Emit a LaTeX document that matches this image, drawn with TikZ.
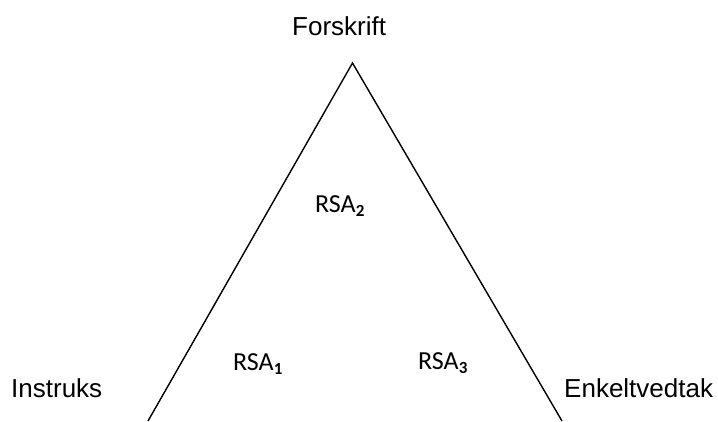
\documentclass[tikz,border=0pt]{standalone}
\usepackage{fontspec}
\setmainfont{Liberation Sans}
\newfontfamily\calibrifont{Carlito}
\newcommand{\rsasub}[1]{\raisebox{-4pt}{\fontsize{17}{17}\selectfont\bfseries #1}}
\begin{document}
\begin{tikzpicture}[x=1pt,y=-1pt,
  lbl/.style={inner sep=0pt,anchor=base west,font=\fontsize{26}{30}\selectfont},
  rsa/.style={inner sep=0pt,anchor=base west,font=\calibrifont\fontsize{26}{30}\selectfont},
  side/.style={line width=1.4pt,black}]
  \useasboundingbox (0,0) rectangle (718,421);
  % corners of the triangle
  \coordinate (top) at (352.5,63);
  \coordinate (bl) at (148,421);
  \coordinate (br) at (562,421);
  \draw[side] (bl) -- (top) -- (br);
  % corner labels
  \node[lbl] (forskrift) at (292,35) {Forskrift};
  \node[lbl] (instruks) at (11,397) {Instruks};
  \node[lbl] (enkelt) at (564,397) {Enkeltvedtak};
  % inner labels
  \node[rsa] (rsa2) at (315,212) {RSA\rsasub{2}};
  \node[rsa] (rsa1) at (233,370) {RSA\rsasub{1}};
  \node[rsa] (rsa3) at (418,369) {RSA\rsasub{3}};
\end{tikzpicture}
\end{document}
